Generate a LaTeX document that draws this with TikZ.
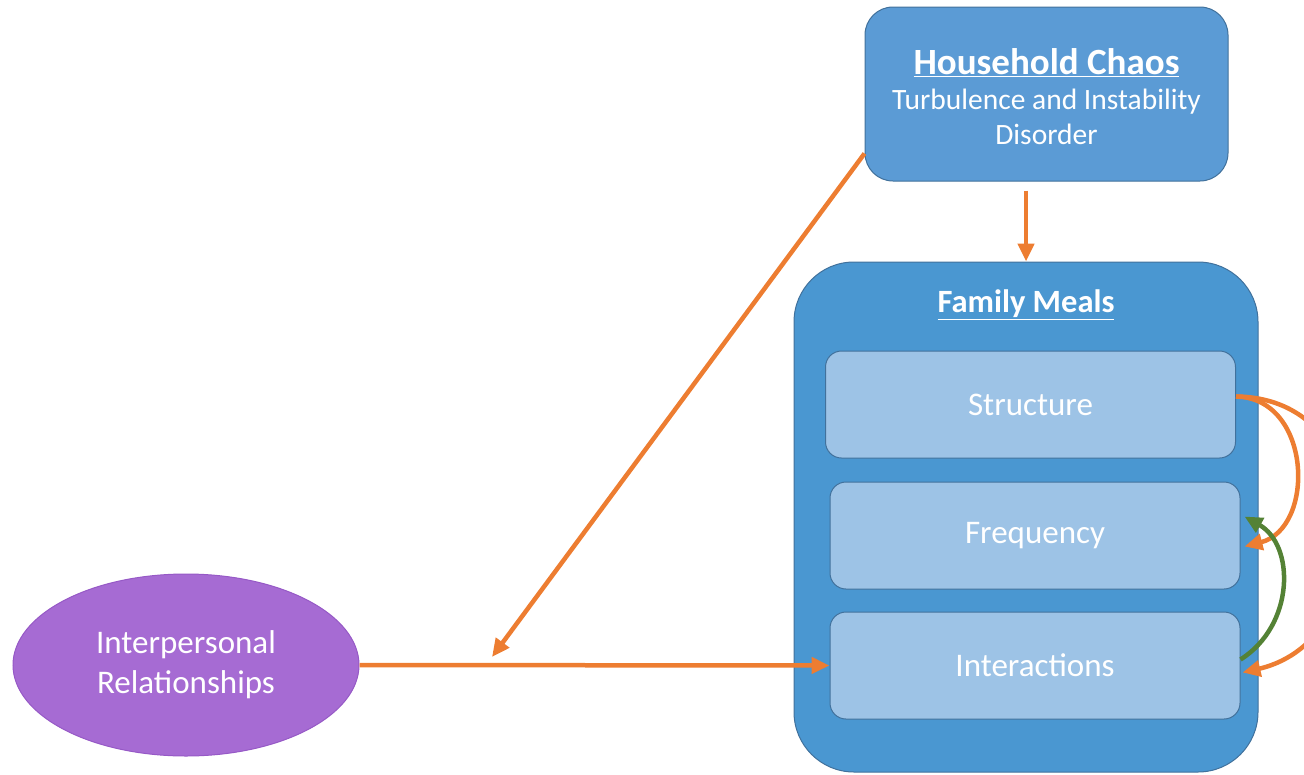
\documentclass[tikz,border=0pt]{standalone}
\usepackage{fontspec}
\setmainfont{Carlito}
\usetikzlibrary{arrows.meta,shapes.geometric}
\definecolor{hcfill}{HTML}{5B9BD5}
\definecolor{hcdraw}{HTML}{41719C}
\definecolor{fmfill}{HTML}{4A97D1}
\definecolor{inner}{HTML}{9DC3E6}
\definecolor{purp}{HTML}{A66BD3}
\definecolor{purpd}{HTML}{9659C6}
\definecolor{orng}{HTML}{ED7D31}
\definecolor{grn}{HTML}{548235}
\tikzset{
  box/.style={draw=hcdraw, line width=1pt, text=white, align=center, inner sep=0pt},
  innerbox/.style={box, fill=inner, rounded corners=16pt, minimum width=410pt, minimum height=107pt, font=\fontsize{33}{40}\selectfont},
  arr/.style={draw=orng, line width=4.5pt, -{Triangle[length=18pt,width=16pt]}},
  garr/.style={draw=grn, line width=4.5pt, -{Triangle[length=18pt,width=16pt]}},
}
\begin{document}
\begin{tikzpicture}[x=1pt,y=-1pt]
\useasboundingbox (0,0) rectangle (1304,774);
% Household Chaos
\node[box, fill=hcfill, rounded corners=28pt, minimum width=363pt, minimum height=174pt] (hc) at (1046.5,94) {};
\node[text=white, align=center, font=\fontsize{29.5}{35}\selectfont] (hct) at (1046.5,97)
  {{\fontsize{37}{35}\selectfont\bfseries\underline{Household Chaos}}\\Turbulence and Instability\\Disorder};
% Family Meals
\node[box, fill=fmfill, rounded corners=60pt, minimum width=464pt, minimum height=510pt] (fm) at (1026,517) {};
\node[text=white, font=\fontsize{32.5}{36}\selectfont\bfseries] (fmt) at (1026,305) {\underline{Family Meals}};
\node[innerbox] (st) at (1030.5,404.5) {Structure};
\node[innerbox] (fr) at (1035,535.5) {Frequency};
\node[innerbox] (in) at (1035,665.5) {Interactions};
% Ellipse
\node[draw=purpd, line width=1pt, fill=purp, ellipse, minimum width=346pt, minimum height=182pt, text=white, align=center, inner sep=0pt, font=\fontsize{33}{40}\selectfont] (ip) at (186,665) {Interpersonal\\Relationships};
% connectors
\coordinate (mid) at (492,657);
\draw[arr] ([yshift=28pt]hc.south west) -- (mid);
\draw[arr] ([yshift=-9pt]hc.south -| fm.north) -- (fm.north);
\draw[arr] (ip.east) -- (in.west);
\draw[arr] ([yshift=8pt]st.east) .. controls (1312,398) and (1316,528) .. ([xshift=4pt,yshift=-11pt]fr.east);
\draw[arr] ([yshift=8pt]st.east) .. controls (1390,398) and (1385,640) .. ([xshift=2pt,yshift=-7pt]in.east);
\draw[garr] ([yshift=6pt]in.east) .. controls (1295,625) and (1295,545) .. ([xshift=4pt,yshift=19pt]fr.east);
\end{tikzpicture}
\end{document}
